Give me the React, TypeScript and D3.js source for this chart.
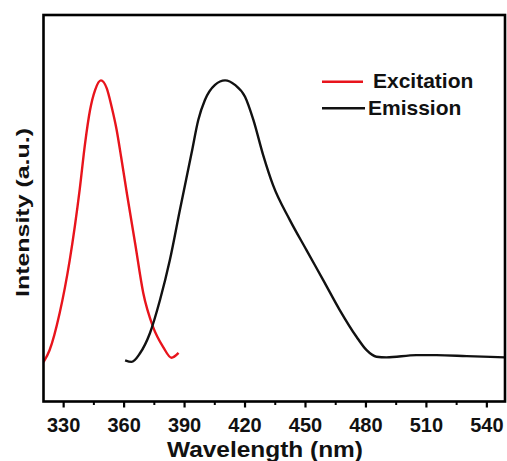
import React from "react";
import * as d3 from "d3";

const excitationNm = [320, 323, 328, 333, 338, 340.6, 343.1, 345.6, 348.5, 351.4, 353.8, 356.3, 358.5, 361.4, 365.5, 369.5, 374.4, 379.4, 383.5, 387];
const excitationI = [0.122, 0.159, 0.274, 0.438, 0.66, 0.8, 0.905, 0.967, 0.997, 0.972, 0.915, 0.843, 0.76, 0.645, 0.49, 0.337, 0.231, 0.169, 0.136, 0.151];

const emissionNm = [360.5, 363.7, 367.8, 372.8, 377.8, 382.7, 387.7, 393.5, 396.8, 400.1, 405.1, 410.1, 415, 420, 424.1, 429, 434, 442.2, 450.5, 458.8, 467, 475.3, 480.2, 485.2, 490.2, 505, 515, 530, 549];
const emissionI = [0.128, 0.123, 0.149, 0.212, 0.315, 0.439, 0.595, 0.772, 0.874, 0.936, 0.983, 0.997, 0.983, 0.946, 0.875, 0.765, 0.67, 0.564, 0.47, 0.377, 0.284, 0.201, 0.16, 0.139, 0.137, 0.144, 0.144, 0.141, 0.137];

const majorTicks = [330, 360, 390, 420, 450, 480, 510, 540];
const minorTicks = [345, 375, 405, 435, 465, 495, 525];

const seriesNames = ["Excitation", "Emission"];
const seriesColors = ["#e8141c", "#111111"];

const W = 507;
const H = 461;
const L = 43.5, R = 505, T = 15, B = 401.5;
const FONT = "Arial, 'Liberation Sans', Helvetica, sans-serif";

export default function App() {
  const x = d3.scaleLinear().domain([320, 549]).range([L, R]);
  const y = d3.scaleLinear().domain([0, 1.2]).range([B, T]);
  const line = d3
    .line<[number, number]>()
    .x((d) => x(d[0]))
    .y((d) => y(d[1]))
    .curve(d3.curveMonotoneX);

  const exc = excitationNm.map((n, i) => [n, excitationI[i]] as [number, number]);
  const emi = emissionNm.map((n, i) => [n, emissionI[i]] as [number, number]);
  const series = [exc, emi];

  return (
    <svg
      width={W}
      height={H}
      style={{ position: "absolute", left: 0, top: 0, background: "#fff" }}
      fontFamily={FONT}
    >
      <defs>
        <clipPath id="plotclip">
          <rect x={L} y={T} width={R - L} height={B - T} />
        </clipPath>
      </defs>
      <g clipPath="url(#plotclip)">
        {series.map((s, i) => (
          <path key={i} d={line(s) || ""} fill="none" stroke={seriesColors[i]} strokeWidth={2.4} />
        ))}
      </g>
      <rect x={L} y={T} width={R - L} height={B - T} fill="none" stroke="#000" strokeWidth={2.6} />
      {majorTicks.map((t) => (
        <g key={t}>
          <line x1={x(t)} x2={x(t)} y1={B} y2={B + 6} stroke="#000" strokeWidth={2.2} />
          <text x={x(t)} y={432} textAnchor="middle" fontSize={20} fontWeight="bold" fill="#111">
            {t}
          </text>
        </g>
      ))}
      {minorTicks.map((t) => (
        <line key={t} x1={x(t)} x2={x(t)} y1={B} y2={B + 3.5} stroke="#000" strokeWidth={2} />
      ))}
      <text
        x={265}
        y={457}
        textAnchor="middle"
        fontSize={22}
        fontWeight="bold"
        fill="#111"
        textLength={196}
        lengthAdjust="spacingAndGlyphs"
      >
        Wavelength (nm)
      </text>
      <text
        transform="translate(29,212.5) rotate(-90)"
        textAnchor="middle"
        fontSize={19}
        fontWeight="bold"
        fill="#111"
        textLength={169}
        lengthAdjust="spacingAndGlyphs"
      >
        Intensity (a.u.)
      </text>
      {seriesNames.map((name, i) => (
        <g key={name}>
          <line
            x1={322}
            x2={i === 0 ? 363 : 365}
            y1={i === 0 ? 81.7 : 108.3}
            y2={i === 0 ? 81.7 : 108.3}
            stroke={seriesColors[i]}
            strokeWidth={2.6}
          />
          <text x={i === 0 ? 373 : 368} y={i === 0 ? 88.3 : 115} fontSize={21} fontWeight="bold" fill="#111">
            {name}
          </text>
        </g>
      ))}
    </svg>
  );
}
